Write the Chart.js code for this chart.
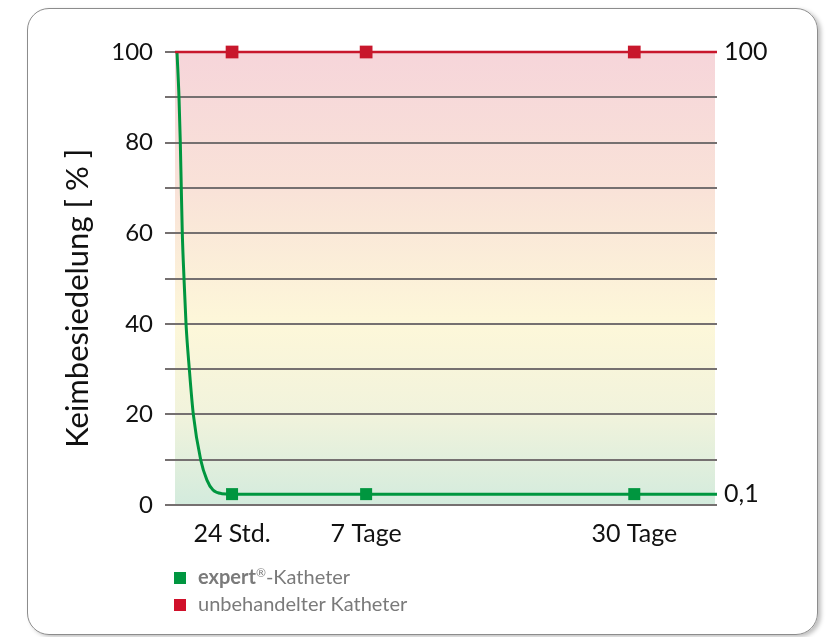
<!DOCTYPE html>
<html>
<head>
<meta charset="utf-8">
<script src="https://cdn.jsdelivr.net/npm/chart.js@4.4.1/dist/chart.umd.min.js"></script>
<style>
  html, body { margin: 0; padding: 0; background: #fff; }
  body { width: 831px; height: 637px; position: relative; overflow: hidden; font-family: Lato, "Open Sans", sans-serif; }
  #frame { position: absolute; left: 27px; top: 8px; width: 789px; height: 625px; border: 1.5px solid #8c8c8c; border-radius: 22px; box-shadow: 3px 2px 4px rgba(0,0,0,0.25); }
  #wrap { position: absolute; left: 0; top: 0; width: 831px; height: 637px; }
  #legend { position: absolute; left: 174px; top: 563px; color: #7a7a7a; font-size: 20px; line-height: 27px; }
  #legend .sw { display: inline-block; width: 12px; height: 12px; margin-right: 12px; vertical-align: 0px; }
  #legend sup { font-size: 12px; vertical-align: 7px; line-height: 0; }
</style>
</head>
<body>
<div id="frame"></div>
<div id="wrap"><canvas id="c" width="831" height="637"></canvas></div>
<div id="legend">
  <div><span class="sw" style="background:#009640"></span><b>expert</b><sup>®</sup>-Katheter</div>
  <div><span class="sw" style="background:#d0102a"></span>unbehandelter Katheter</div>
</div>
<script>
// x-Achse: Zeit in willkürlichen Einheiten (nicht linear wie im Original)
const xLabels = ['24 Std.', '7 Tage', '30 Tage'];
const xLabelPos = [10, 33.5, 80.5];
const yTicks = [0, 20, 40, 60, 80, 100];
const rightTicks = [2.4, 100];
const rightLabels = ['0,1', '100'];

// unbehandelter Katheter
const redX = [0, 10, 33.5, 80.5, 95];
const redY = [100, 100, 100, 100, 100];

// expert-Katheter (Abfall in den ersten Stunden)
const greenX = [0.35, 0.7, 0.93, 1.1, 1.28, 1.58, 1.93, 2.51, 3.21, 4.5, 5.6, 6.66, 8.2, 10, 33.5, 80.5, 95];
const greenY = [100, 90, 80, 70, 60, 50, 40, 30, 20, 10, 5.5, 3.3, 2.5, 2.4, 2.4, 2.4, 2.4];

const RED = '#c8172c';
const GREEN = '#00963f';

// Farbverlauf hinter dem Diagramm
const bgPlugin = {
  id: 'bg',
  beforeDatasetsDraw(chart) {
    const {ctx, chartArea: a} = chart;
    const g = ctx.createLinearGradient(0, a.top, 0, a.bottom);
    g.addColorStop(0, '#f6d5da');
    g.addColorStop(0.3, '#f9e2d8');
    g.addColorStop(0.6, '#fdf7d9');
    g.addColorStop(0.8, '#f1f3dc');
    g.addColorStop(1, '#d3ebdd');
    ctx.save();
    ctx.globalCompositeOperation = 'destination-over';
    ctx.fillStyle = g;
    ctx.fillRect(a.left, a.top, a.right - a.left - 2, a.bottom - a.top);
    ctx.restore();
  }
};

const toPts = (xs, ys) => xs.map((x, i) => ({x, y: ys[i]}));
const isMarker = ctx => ctx.raw && xLabelPos.includes(ctx.raw.x);

new Chart(document.getElementById('c'), {
  type: 'line',
  data: {
    datasets: [
      {
        label: 'unbehandelter Katheter',
        data: toPts(redX, redY),
        borderColor: RED, backgroundColor: RED, borderWidth: 2.5,
        pointStyle: 'rect', pointRadius: c => isMarker(c) ? 9 : 0, pointBorderWidth: 0,
        clip: false
      },
      {
        label: 'expert-Katheter',
        data: toPts(greenX, greenY),
        borderColor: GREEN, backgroundColor: GREEN, borderWidth: 3,
        cubicInterpolationMode: 'monotone',
        pointStyle: 'rect', pointRadius: c => isMarker(c) ? 8.5 : 0, pointBorderWidth: 0,
        clip: false
      }
    ]
  },
  options: {
    responsive: false, animation: false,
    layout: { padding: { left: 50, top: 52, right: 0, bottom: 0 } },
    plugins: { legend: { display: false }, tooltip: { enabled: false } },
    scales: {
      x: {
        type: 'linear', min: 0, max: 95,
        afterBuildTicks: ax => { ax.ticks = xLabelPos.map(v => ({value: v})); },
        afterFit: ax => { ax.height = 132; },
        grid: { display: false, drawTicks: false }, border: { display: false },
        ticks: {
          autoSkip: false, maxRotation: 0, padding: 14, color: '#111',
          font: { family: 'Lato', size: 25 },
          callback: v => xLabels[xLabelPos.indexOf(v)]
        }
      },
      y: {
        position: 'left', min: 0, max: 100,
        afterBuildTicks: ax => { ax.ticks = Array.from({length: 11}, (_, i) => ({value: i * 10})); },
        afterFit: ax => { ax.width = 125; },
        grid: { color: '#757070', lineWidth: 2, tickLength: 10 },
        border: { display: false },
        ticks: {
          padding: 12, color: '#111', font: { family: 'Lato', size: 24 },
          callback: v => yTicks.includes(v) ? String(v) : ''
        },
        title: {
          // nachgestellte Leerzeichen schieben den Titel etwas nach unten
          display: true, text: 'Keimbesiedelung [ % ]\u00A0\u00A0\u00A0\u00A0\u00A0', color: '#111',
          font: { family: 'Lato', size: 31 }, padding: { top: 9, bottom: 0 }
        }
      },
      y2: {
        position: 'right', min: 0, max: 100,
        afterBuildTicks: ax => { ax.ticks = rightTicks.map(v => ({value: v})); },
        afterFit: ax => { ax.width = 114; },
        grid: { display: false, drawTicks: false }, border: { display: false },
        ticks: {
          padding: 7, color: '#111', font: { family: 'Lato', size: 25 },
          callback: v => rightLabels[rightTicks.indexOf(v)]
        }
      }
    }
  },
  plugins: [bgPlugin]
});
</script>
</body>
</html>
